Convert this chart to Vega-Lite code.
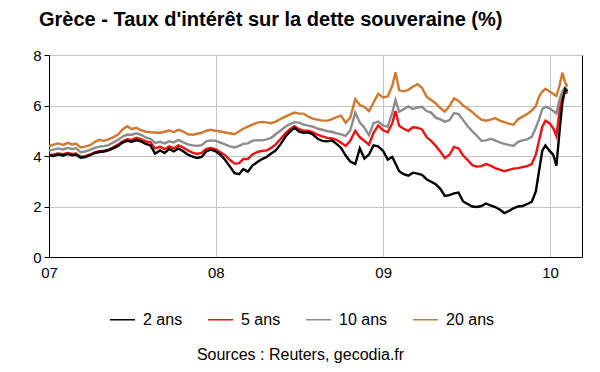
{
  "$schema": "https://vega.github.io/schema/vega-lite/v6.json",
  "autosize": "none",
  "width": 533,
  "height": 202,
  "padding": {"left": 49, "top": 55, "right": 18, "bottom": 115},
  "config": {
    "font": "Liberation Sans",
    "view": {"stroke": "#000000", "strokeWidth": 1},
    "axis": {"labelColor": "#000000", "labelFontSize": 15, "domainColor": "#000000", "tickColor": "#000000", "gridColor": "#c4c4c4", "gridWidth": 1}
  },
  "title": {"text": "Grèce - Taux d'intérêt sur la dette souveraine (%)", "anchor": "start", "frame": "group", "fontSize": 20, "fontWeight": "bold", "color": "#000000", "dx": -10, "offset": 18},
  "data": {"values": [
    {"d":"2007-01-01","2 ans":4.02,"5 ans":4.05,"10 ans":4.22,"20 ans":4.38},
    {"d":"2007-01-11","2 ans":4.00,"5 ans":4.06,"10 ans":4.25,"20 ans":4.45},
    {"d":"2007-01-21","2 ans":4.06,"5 ans":4.10,"10 ans":4.30,"20 ans":4.50},
    {"d":"2007-02-01","2 ans":4.02,"5 ans":4.07,"10 ans":4.26,"20 ans":4.44},
    {"d":"2007-02-11","2 ans":4.08,"5 ans":4.12,"10 ans":4.32,"20 ans":4.52},
    {"d":"2007-02-21","2 ans":4.03,"5 ans":4.08,"10 ans":4.27,"20 ans":4.46},
    {"d":"2007-03-01","2 ans":4.06,"5 ans":4.10,"10 ans":4.31,"20 ans":4.49},
    {"d":"2007-03-11","2 ans":3.93,"5 ans":3.97,"10 ans":4.15,"20 ans":4.34},
    {"d":"2007-03-21","2 ans":3.96,"5 ans":3.99,"10 ans":4.18,"20 ans":4.37},
    {"d":"2007-04-01","2 ans":4.03,"5 ans":4.06,"10 ans":4.24,"20 ans":4.43},
    {"d":"2007-04-11","2 ans":4.12,"5 ans":4.14,"10 ans":4.32,"20 ans":4.55},
    {"d":"2007-04-21","2 ans":4.16,"5 ans":4.19,"10 ans":4.37,"20 ans":4.64},
    {"d":"2007-05-01","2 ans":4.18,"5 ans":4.21,"10 ans":4.39,"20 ans":4.60},
    {"d":"2007-05-11","2 ans":4.22,"5 ans":4.25,"10 ans":4.43,"20 ans":4.66},
    {"d":"2007-05-21","2 ans":4.30,"5 ans":4.34,"10 ans":4.53,"20 ans":4.74},
    {"d":"2007-06-01","2 ans":4.40,"5 ans":4.45,"10 ans":4.63,"20 ans":4.85},
    {"d":"2007-06-11","2 ans":4.53,"5 ans":4.58,"10 ans":4.77,"20 ans":5.05},
    {"d":"2007-06-21","2 ans":4.60,"5 ans":4.66,"10 ans":4.85,"20 ans":5.18},
    {"d":"2007-07-01","2 ans":4.56,"5 ans":4.64,"10 ans":4.84,"20 ans":5.07},
    {"d":"2007-07-11","2 ans":4.63,"5 ans":4.72,"10 ans":4.90,"20 ans":5.12},
    {"d":"2007-07-21","2 ans":4.58,"5 ans":4.67,"10 ans":4.84,"20 ans":5.02},
    {"d":"2007-08-01","2 ans":4.48,"5 ans":4.58,"10 ans":4.74,"20 ans":4.96},
    {"d":"2007-08-11","2 ans":4.42,"5 ans":4.54,"10 ans":4.68,"20 ans":4.94},
    {"d":"2007-08-21","2 ans":4.10,"5 ans":4.30,"10 ans":4.52,"20 ans":4.93},
    {"d":"2007-09-01","2 ans":4.22,"5 ans":4.36,"10 ans":4.56,"20 ans":4.92},
    {"d":"2007-09-11","2 ans":4.12,"5 ans":4.27,"10 ans":4.50,"20 ans":4.96},
    {"d":"2007-09-21","2 ans":4.28,"5 ans":4.38,"10 ans":4.58,"20 ans":5.02},
    {"d":"2007-10-01","2 ans":4.18,"5 ans":4.30,"10 ans":4.54,"20 ans":4.94},
    {"d":"2007-10-11","2 ans":4.30,"5 ans":4.42,"10 ans":4.64,"20 ans":5.04},
    {"d":"2007-10-21","2 ans":4.20,"5 ans":4.34,"10 ans":4.55,"20 ans":4.98},
    {"d":"2007-11-01","2 ans":4.05,"5 ans":4.22,"10 ans":4.46,"20 ans":4.86},
    {"d":"2007-11-11","2 ans":3.98,"5 ans":4.13,"10 ans":4.42,"20 ans":4.84},
    {"d":"2007-11-21","2 ans":3.92,"5 ans":4.08,"10 ans":4.40,"20 ans":4.88},
    {"d":"2007-12-01","2 ans":3.96,"5 ans":4.12,"10 ans":4.43,"20 ans":4.92},
    {"d":"2007-12-11","2 ans":4.18,"5 ans":4.28,"10 ans":4.58,"20 ans":5.00},
    {"d":"2007-12-21","2 ans":4.25,"5 ans":4.32,"10 ans":4.62,"20 ans":5.04},
    {"d":"2008-01-01","2 ans":4.18,"5 ans":4.26,"10 ans":4.60,"20 ans":5.00},
    {"d":"2008-01-11","2 ans":4.05,"5 ans":4.15,"10 ans":4.53,"20 ans":4.97},
    {"d":"2008-01-21","2 ans":3.85,"5 ans":4.03,"10 ans":4.46,"20 ans":4.93},
    {"d":"2008-02-01","2 ans":3.58,"5 ans":3.84,"10 ans":4.38,"20 ans":4.90},
    {"d":"2008-02-11","2 ans":3.32,"5 ans":3.70,"10 ans":4.34,"20 ans":4.86},
    {"d":"2008-02-21","2 ans":3.28,"5 ans":3.72,"10 ans":4.40,"20 ans":4.98},
    {"d":"2008-03-01","2 ans":3.48,"5 ans":3.88,"10 ans":4.48,"20 ans":5.08},
    {"d":"2008-03-11","2 ans":3.38,"5 ans":3.88,"10 ans":4.50,"20 ans":5.16},
    {"d":"2008-03-21","2 ans":3.62,"5 ans":4.06,"10 ans":4.60,"20 ans":5.24},
    {"d":"2008-04-01","2 ans":3.76,"5 ans":4.16,"10 ans":4.63,"20 ans":5.32},
    {"d":"2008-04-11","2 ans":3.88,"5 ans":4.20,"10 ans":4.62,"20 ans":5.35},
    {"d":"2008-04-21","2 ans":3.96,"5 ans":4.22,"10 ans":4.66,"20 ans":5.33},
    {"d":"2008-05-01","2 ans":4.10,"5 ans":4.32,"10 ans":4.72,"20 ans":5.30},
    {"d":"2008-05-11","2 ans":4.22,"5 ans":4.46,"10 ans":4.86,"20 ans":5.36},
    {"d":"2008-05-21","2 ans":4.45,"5 ans":4.66,"10 ans":5.00,"20 ans":5.46},
    {"d":"2008-06-01","2 ans":4.76,"5 ans":4.90,"10 ans":5.16,"20 ans":5.56},
    {"d":"2008-06-11","2 ans":4.96,"5 ans":5.06,"10 ans":5.26,"20 ans":5.64},
    {"d":"2008-06-21","2 ans":5.12,"5 ans":5.18,"10 ans":5.34,"20 ans":5.72},
    {"d":"2008-07-01","2 ans":4.96,"5 ans":5.06,"10 ans":5.32,"20 ans":5.68},
    {"d":"2008-07-11","2 ans":4.92,"5 ans":5.00,"10 ans":5.24,"20 ans":5.68},
    {"d":"2008-07-21","2 ans":4.94,"5 ans":5.00,"10 ans":5.20,"20 ans":5.56},
    {"d":"2008-08-01","2 ans":4.84,"5 ans":4.94,"10 ans":5.16,"20 ans":5.47},
    {"d":"2008-08-11","2 ans":4.68,"5 ans":4.84,"10 ans":5.08,"20 ans":5.44},
    {"d":"2008-08-21","2 ans":4.60,"5 ans":4.78,"10 ans":5.04,"20 ans":5.40},
    {"d":"2008-09-01","2 ans":4.58,"5 ans":4.72,"10 ans":4.98,"20 ans":5.40},
    {"d":"2008-09-11","2 ans":4.62,"5 ans":4.70,"10 ans":4.96,"20 ans":5.46},
    {"d":"2008-09-21","2 ans":4.48,"5 ans":4.64,"10 ans":4.90,"20 ans":5.54},
    {"d":"2008-10-01","2 ans":4.32,"5 ans":4.52,"10 ans":4.86,"20 ans":5.60},
    {"d":"2008-10-11","2 ans":4.02,"5 ans":4.40,"10 ans":4.80,"20 ans":5.32},
    {"d":"2008-10-21","2 ans":3.78,"5 ans":4.60,"10 ans":5.02,"20 ans":5.52},
    {"d":"2008-11-01","2 ans":3.68,"5 ans":5.00,"10 ans":5.72,"20 ans":6.25},
    {"d":"2008-11-11","2 ans":4.30,"5 ans":4.74,"10 ans":5.32,"20 ans":6.02},
    {"d":"2008-11-21","2 ans":3.90,"5 ans":4.60,"10 ans":5.12,"20 ans":5.94},
    {"d":"2008-12-01","2 ans":4.06,"5 ans":4.45,"10 ans":4.82,"20 ans":5.78},
    {"d":"2008-12-11","2 ans":4.42,"5 ans":4.92,"10 ans":5.30,"20 ans":6.12},
    {"d":"2008-12-21","2 ans":4.38,"5 ans":5.20,"10 ans":5.36,"20 ans":6.46},
    {"d":"2009-01-01","2 ans":4.20,"5 ans":5.02,"10 ans":5.20,"20 ans":6.32},
    {"d":"2009-01-11","2 ans":3.86,"5 ans":4.94,"10 ans":5.16,"20 ans":6.36},
    {"d":"2009-01-21","2 ans":3.96,"5 ans":5.30,"10 ans":5.72,"20 ans":6.78},
    {"d":"2009-01-28","2 ans":3.70,"5 ans":5.78,"10 ans":6.22,"20 ans":7.32},
    {"d":"2009-02-05","2 ans":3.40,"5 ans":5.20,"10 ans":5.75,"20 ans":6.60},
    {"d":"2009-02-15","2 ans":3.28,"5 ans":5.08,"10 ans":5.85,"20 ans":6.56},
    {"d":"2009-02-25","2 ans":3.22,"5 ans":5.00,"10 ans":5.96,"20 ans":6.62},
    {"d":"2009-03-07","2 ans":3.34,"5 ans":5.14,"10 ans":5.86,"20 ans":6.74},
    {"d":"2009-03-17","2 ans":3.30,"5 ans":5.12,"10 ans":5.92,"20 ans":6.84},
    {"d":"2009-03-27","2 ans":3.25,"5 ans":5.05,"10 ans":5.95,"20 ans":6.70},
    {"d":"2009-04-06","2 ans":3.08,"5 ans":4.75,"10 ans":5.78,"20 ans":6.35},
    {"d":"2009-04-16","2 ans":2.98,"5 ans":4.60,"10 ans":5.72,"20 ans":6.22},
    {"d":"2009-04-26","2 ans":2.88,"5 ans":4.40,"10 ans":5.52,"20 ans":6.08},
    {"d":"2009-05-06","2 ans":2.70,"5 ans":4.18,"10 ans":5.45,"20 ans":5.90},
    {"d":"2009-05-16","2 ans":2.42,"5 ans":3.92,"10 ans":5.36,"20 ans":5.76},
    {"d":"2009-05-26","2 ans":2.45,"5 ans":4.05,"10 ans":5.42,"20 ans":5.98},
    {"d":"2009-06-05","2 ans":2.52,"5 ans":4.36,"10 ans":5.70,"20 ans":6.28},
    {"d":"2009-06-15","2 ans":2.55,"5 ans":4.30,"10 ans":5.66,"20 ans":6.18},
    {"d":"2009-06-25","2 ans":2.20,"5 ans":4.02,"10 ans":5.42,"20 ans":6.00},
    {"d":"2009-07-05","2 ans":2.10,"5 ans":3.84,"10 ans":5.18,"20 ans":5.88},
    {"d":"2009-07-15","2 ans":2.00,"5 ans":3.64,"10 ans":4.98,"20 ans":5.74},
    {"d":"2009-07-25","2 ans":1.98,"5 ans":3.58,"10 ans":4.80,"20 ans":5.58},
    {"d":"2009-08-04","2 ans":2.02,"5 ans":3.60,"10 ans":4.60,"20 ans":5.44},
    {"d":"2009-08-14","2 ans":2.12,"5 ans":3.68,"10 ans":4.62,"20 ans":5.40},
    {"d":"2009-08-24","2 ans":2.04,"5 ans":3.62,"10 ans":4.68,"20 ans":5.44},
    {"d":"2009-09-03","2 ans":1.98,"5 ans":3.52,"10 ans":4.62,"20 ans":5.50},
    {"d":"2009-09-13","2 ans":1.88,"5 ans":3.46,"10 ans":4.54,"20 ans":5.40},
    {"d":"2009-09-23","2 ans":1.74,"5 ans":3.40,"10 ans":4.48,"20 ans":5.34},
    {"d":"2009-10-03","2 ans":1.82,"5 ans":3.45,"10 ans":4.44,"20 ans":5.28},
    {"d":"2009-10-13","2 ans":1.93,"5 ans":3.50,"10 ans":4.40,"20 ans":5.24},
    {"d":"2009-10-23","2 ans":2.00,"5 ans":3.52,"10 ans":4.56,"20 ans":5.46},
    {"d":"2009-11-02","2 ans":2.02,"5 ans":3.56,"10 ans":4.62,"20 ans":5.56},
    {"d":"2009-11-12","2 ans":2.10,"5 ans":3.60,"10 ans":4.66,"20 ans":5.66},
    {"d":"2009-11-22","2 ans":2.18,"5 ans":3.68,"10 ans":4.76,"20 ans":5.80},
    {"d":"2009-12-01","2 ans":2.60,"5 ans":4.05,"10 ans":5.12,"20 ans":5.98},
    {"d":"2009-12-08","2 ans":3.40,"5 ans":4.60,"10 ans":5.45,"20 ans":6.35},
    {"d":"2009-12-15","2 ans":4.20,"5 ans":5.15,"10 ans":5.85,"20 ans":6.55},
    {"d":"2009-12-22","2 ans":4.42,"5 ans":5.40,"10 ans":5.95,"20 ans":6.66},
    {"d":"2009-12-31","2 ans":4.20,"5 ans":5.30,"10 ans":5.90,"20 ans":6.55},
    {"d":"2010-01-08","2 ans":4.05,"5 ans":5.10,"10 ans":5.78,"20 ans":6.46},
    {"d":"2010-01-15","2 ans":3.62,"5 ans":4.80,"10 ans":5.68,"20 ans":6.38},
    {"d":"2010-01-22","2 ans":5.00,"5 ans":5.80,"10 ans":6.25,"20 ans":6.80},
    {"d":"2010-01-28","2 ans":6.10,"5 ans":6.30,"10 ans":6.55,"20 ans":7.30},
    {"d":"2010-02-03","2 ans":6.65,"5 ans":6.55,"10 ans":6.72,"20 ans":6.92},
    {"d":"2010-02-08","2 ans":6.55,"5 ans":6.48,"10 ans":6.60,"20 ans":6.76}
  ]},
  "transform": [
    {"fold": ["20 ans", "10 ans", "5 ans", "2 ans"], "as": ["serie", "taux"]}
  ],
  "mark": {"type": "line", "strokeWidth": 2.4, "clip": true},
  "encoding": {
    "x": {
      "field": "d", "type": "temporal",
      "scale": {"type": "utc", "domain": [{"year": 2007, "month": 1, "date": 1, "utc": true}, {"year": 2010, "month": 3, "date": 12, "utc": true}], "nice": false},
      "axis": {
        "format": "%y",
        "values": [{"year": 2007, "month": 1, "date": 1, "utc": true}, {"year": 2008, "month": 1, "date": 1, "utc": true}, {"year": 2009, "month": 1, "date": 1, "utc": true}, {"year": 2010, "month": 1, "date": 1, "utc": true}],
        "ticks": false, "labelPadding": 8, "grid": true, "labelAlign": "center", "labelFlush": false,
        "title": "Sources : Reuters, gecodia.fr", "titleFontSize": 16, "titleFontWeight": "normal", "titleColor": "#000000",
        "titleX": 251, "titleY": 102, "titleAlign": "center", "titleBaseline": "alphabetic"
      }
    },
    "y": {
      "field": "taux", "type": "quantitative",
      "scale": {"domain": [0, 8], "nice": false},
      "axis": {"values": [0, 2, 4, 6, 8], "tickSize": 5, "labelPadding": 3, "title": null, "grid": true}
    },
    "color": {
      "field": "serie", "type": "nominal",
      "scale": {"domain": ["2 ans", "5 ans", "10 ans", "20 ans"], "range": ["#000000", "#ee1111", "#8c8c8c", "#d0782e"]},
      "legend": {
        "title": null, "orient": "none", "direction": "horizontal", "legendX": 60, "legendY": 251,
        "symbolType": "stroke", "symbolSize": 625, "symbolStrokeWidth": 1.5,
        "labelFontSize": 16, "labelColor": "#000000", "labelOffset": 7, "columnPadding": 22, "padding": 0
      }
    }
  }
}
